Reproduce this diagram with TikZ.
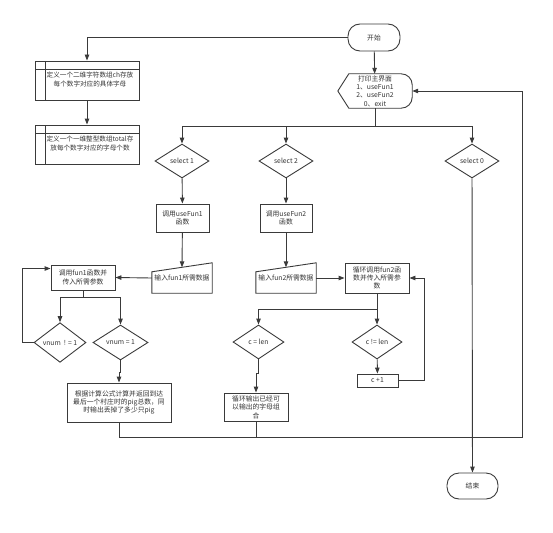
\documentclass[tikz,border=0pt]{standalone}
\usepackage{fontspec}
\setmainfont{Noto Sans CJK SC}
\usetikzlibrary{arrows.meta,shapes.geometric}
\definecolor{ink}{HTML}{3A3A3A}
\definecolor{txt}{HTML}{333333}
% text of a predefined-process box, pushed off its bars
\newcommand{\predtext}[1]{\hspace*{6pt}\raisebox{-3.5pt}{\begin{tabular}{@{}c@{}}#1\end{tabular}}}

\begin{document}
\begin{tikzpicture}[x=1pt,y=-1pt,
    line/.style={draw=ink, line width=0.9pt},
    arr/.style={line, -{Triangle[length=6pt,width=4.5pt]}},
    base/.style={font=\fontsize{6.8}{8.4}\selectfont, text=txt, align=center, inner sep=1pt},
    term/.style={base, line, rounded corners=12pt, minimum width=52pt, minimum height=27pt},
    proc/.style={base, line, minimum width=#1, minimum height=28pt},
    proc/.default=64pt,
    predef/.style={base, line, inner sep=0pt, minimum width=104pt, minimum height=39pt,
      font=\fontsize{6.6}{8.4}\selectfont,
      path picture={
        \draw[ink, line width=0.9pt] ([yshift=-8pt]path picture bounding box.north west) -- ([yshift=-8pt]path picture bounding box.north east);
        \draw[ink, line width=0.9pt] ([xshift=10pt]path picture bounding box.north west) -- ([xshift=10pt]path picture bounding box.south west);
      }},
    decide/.style={base, line, diamond, inner sep=0pt, minimum width=54pt, minimum height=34pt},
    manin/.style={base, minimum width=60pt, minimum height=30pt}]
  \useasboundingbox (0,0) rectangle (553,532);

  % start and the two definitions
  \node[term] (start) at (374,37.5) {开始};
  \node[predef] (def1) at (87,80.5) {\predtext{定义一个二维字符数组ch存放\\每个数字对应的具体字母}};
  \node[predef] (def2) at (87,144.5) {\predtext{定义一个一维整型数组total存\\放每个数字对应的字母个数}};

  % main menu (display shape)
  \node[base, minimum width=74pt, minimum height=34pt, inner sep=0pt] (menu) at (375,91)
    {打印主界面\\1、useFun1\\2、useFun2\\0、exit};
  \draw[line] (menu.west) -- ([xshift=11pt]menu.north west) -- ([xshift=-11pt]menu.north east)
    arc[start angle=90, end angle=0, radius=11pt] -- ([yshift=11pt]menu.south east)
    arc[start angle=0, end angle=-90, radius=11pt] -- ([xshift=11pt]menu.south west) -- cycle;

  % the three choices
  \node[decide] (sel1) at (182,161) {select 1};
  \node[decide] (sel2) at (286,161) {select 2};
  \node[decide] (sel0) at (472,161) {select 0};

  \node[proc=53pt] (use1) at (182.5,218) {调用useFun1\\函数};
  \node[proc=52pt] (use2) at (286,218) {调用useFun2\\函数};

  % manual input
  \node[manin] (in1) at (182,278) {输入fun1所需数据};
  \node[manin] (in2) at (286,278) {输入fun2所需数据};
  \foreach \n in {in1,in2}
    \draw[line] (\n.south west) -- ([yshift=-9pt]\n.north west) -- (\n.north east) -- (\n.south east) -- cycle;

  % fun1 branch
  \node[proc, minimum height=25pt] (call1) at (83,277.5) {调用fun1函数并\\传入所需参数};
  \node[decide, minimum width=52pt, minimum height=35pt] (vne) at (60,342.5) {vnum \ ! = 1};
  \node[decide, minimum width=55pt, minimum height=35pt] (veq) at (120.5,342.5) {vnum = 1};
  \node[proc=104pt, minimum height=39pt] (res) at (119,402.5)
    {根据计算公式计算并返回到达\\最后一个村庄时的pig总数，同\\时输出丢掉了多少只pig};

  % fun2 branch
  \node[proc, minimum height=30pt] (call2) at (377,278) {循环调用fun2函\\数并传入所需参\\数};
  \node[decide, minimum width=51pt] (ceq) at (258.5,342) {c = len};
  \node[decide, minimum width=50pt] (cne) at (377,342) {c != len};
  \node[proc=41pt, minimum height=13pt, inner sep=0pt] (inc) at (377.5,380.5) {c +1};
  \node[proc, minimum height=28pt] (out2) at (256,407) {循环输出已经可\\以输出的字母组\\合};

  \node[term, minimum width=51pt, minimum height=26pt] (stop) at (472.5,486) {结束};

  \coordinate (loopbr) at (522,437);

  % connectors
  \draw[arr] (start.west) -| (def1.north);
  \draw[arr] (def1) -- (def2);
  \draw[arr] (start) -- (menu);

  \draw[line] (menu.south) -- ++(0,18) coordinate (split);
  \draw[arr] (split) -| (sel1.north);
  \draw[arr] (split) -| (sel2.north);
  \draw[arr] (split) -| (sel0.north);

  \draw[arr] (sel1) -- (use1);
  \draw[arr] (sel2) -- (use2);
  \draw[arr] (use1) -- ([yshift=-4.5pt]in1.north);
  \draw[arr] (use2) -- ([yshift=-4.5pt]in2.north);
  \draw[arr] (in1.west) -- (call1.east);
  \draw[arr] (in2.east) -- (call2.west);

  \draw[line] (call1.south) -- ++(0,7) coordinate (s2);
  \draw[arr] (s2) -| (vne.north);
  \draw[arr] (s2) -| (veq.north);
  \draw[arr] (vne.west) -- ++(-11,0) |- ([yshift=9pt]call1.west);
  \draw[arr] (veq.south) -- ++(0,12) -| (res.north);

  \draw[line] (call2.south) -- ++(0,16) coordinate (s3);
  \draw[arr] (s3) -| (ceq.north);
  \draw[arr] (s3) -| (cne.north);
  \draw[arr] (cne) -- (inc);
  \draw[arr] (inc.east) -- ++(26,0) |- (call2.east);
  \draw[arr] (ceq.south) -- ++(0,14) -| (out2.north);

  % back to the menu
  \draw[arr] (res.south) |- (loopbr) |- (menu.east);
  \draw[line] (out2.south) -- (out2.south |- loopbr);

  \draw[arr] (sel0) -- (stop);
\end{tikzpicture}
\end{document}
